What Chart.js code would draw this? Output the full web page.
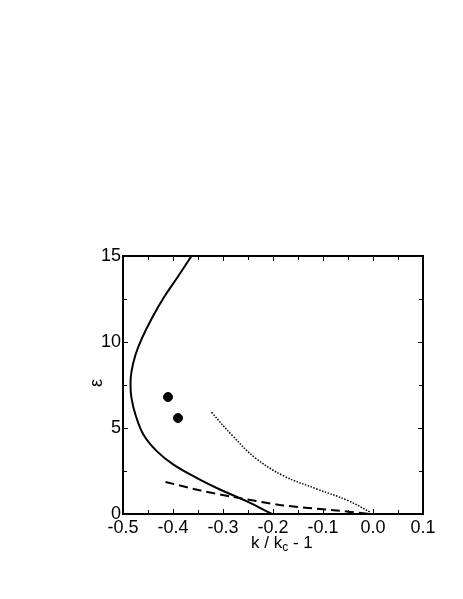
<!DOCTYPE html>
<html>
<head>
<meta charset="utf-8">
<script src="https://cdn.jsdelivr.net/npm/chart.js@4"></script>
<style>
  html, body { margin: 0; padding: 0; background: #fff; }
  #wrap { width: 463px; height: 599px; }
</style>
</head>
<body>
<div id="wrap"><canvas id="chart"></canvas></div>
<script>
// solid curve (k/kc - 1, epsilon)
const solidK   = [-0.363, -0.392, -0.419, -0.442, -0.462, -0.475, -0.483, -0.485, -0.483, -0.475, -0.459, -0.432, -0.399, -0.352, -0.305, -0.252, -0.202];
const solidEps = [15.0, 13.72, 12.56, 11.4, 10.23, 9.26, 8.29, 7.52, 6.74, 5.77, 4.61, 3.64, 2.87, 2.09, 1.41, 0.73, 0.0];

// dotted curve
const dotK   = [-0.323, -0.281, -0.235, -0.179, -0.112, -0.05, -0.004];
const dotEps = [5.91, 4.55, 3.25, 2.22, 1.45, 0.78, 0.08];

// dashed curve
const dashK   = [-0.415, -0.345, -0.279, -0.179, -0.079, -0.01];
const dashEps = [1.86, 1.37, 0.99, 0.5, 0.22, 0.02];

// points
const dotsK   = [-0.41, -0.39];
const dotsEps = [6.8, 5.58];

// ticks
const xMajor = [-0.5, -0.4, -0.3, -0.2, -0.1, 0.0, 0.1];
const xMinor = [-0.45, -0.35, -0.25, -0.15, -0.05, 0.05];
const yMajor = [0, 5, 10, 15];
const yMinor = [2.5, 7.5, 12.5];

function toPoints(xs, ys) {
    return xs.map((x, i) => ({ x: x, y: ys[i] }));
}

const FONT = "'Liberation Sans', Arial, sans-serif";

// frame, inward ticks and axis titles
const framePlugin = {
    id: "frame",
    afterDraw(chart) {
        const ctx = chart.ctx;
        const a = chart.chartArea;
        const xs = chart.scales.x;
        const ys = chart.scales.y;
        ctx.save();
        ctx.strokeStyle = "#000";
        ctx.lineWidth = 2;
        ctx.strokeRect(a.left, a.top, a.right - a.left, a.bottom - a.top);

        ctx.lineWidth = 1;
        const tick = (len, vals, horiz) => {
            vals.forEach((v) => {
                if (horiz) {
                    const px = Math.round(xs.getPixelForValue(v)) + 0.5;
                    ctx.beginPath();
                    ctx.moveTo(px, a.bottom); ctx.lineTo(px, a.bottom - len);
                    ctx.moveTo(px, a.top); ctx.lineTo(px, a.top + len);
                    ctx.stroke();
                } else {
                    const py = Math.round(ys.getPixelForValue(v)) + 0.5;
                    ctx.beginPath();
                    ctx.moveTo(a.left, py); ctx.lineTo(a.left + len, py);
                    ctx.moveTo(a.right, py); ctx.lineTo(a.right - len, py);
                    ctx.stroke();
                }
            });
        };
        tick(5, xMajor, true);
        tick(4, xMinor, true);
        tick(5, yMajor, false);
        tick(4, yMinor, false);

        // x title with subscript
        ctx.fillStyle = "#000";
        ctx.textBaseline = "alphabetic";
        ctx.textAlign = "left";
        const base = 548;
        const p1 = "k / k";
        const p3 = " - 1";
        ctx.font = "17px " + FONT;
        const w1 = ctx.measureText(p1).width;
        ctx.font = "12px " + FONT;
        const w2 = ctx.measureText("c").width;
        const x0 = 251;
        ctx.font = "17px " + FONT;
        ctx.fillText(p1, x0, base);
        ctx.font = "12px " + FONT;
        ctx.fillText("c", x0 + w1, base + 3);
        ctx.font = "17px " + FONT;
        ctx.fillText(p3, x0 + w1 + w2, base);

        // y title
        ctx.save();
        ctx.translate(97, (a.top + a.bottom) / 2 - 2);
        ctx.rotate(-Math.PI / 2);
        ctx.textAlign = "center";
        ctx.textBaseline = "middle";
        ctx.font = "18px " + FONT;
        ctx.fillText("\u03b5", 0, 0);
        ctx.restore();

        ctx.restore();
    }
};

new Chart(document.getElementById("chart"), {
    type: "scatter",
    data: {
        datasets: [
            {
                data: toPoints(solidK, solidEps),
                showLine: true,
                borderColor: "#000",
                borderWidth: 2,
                pointRadius: 0,
                tension: 0.4
            },
            {
                data: toPoints(dotK, dotEps),
                showLine: true,
                borderColor: "#000",
                borderWidth: 1.5,
                borderDash: [1.5, 1.5],
                pointRadius: 0,
                tension: 0.4
            },
            {
                data: toPoints(dashK, dashEps),
                showLine: true,
                borderColor: "#000",
                borderWidth: 2,
                borderDash: [9, 5],
                pointRadius: 0,
                tension: 0.3
            },
            {
                data: toPoints(dotsK, dotsEps),
                showLine: false,
                backgroundColor: "#000",
                borderColor: "#000",
                pointRadius: 4.5
            }
        ]
    },
    options: {
        responsive: true,
        maintainAspectRatio: false,
        animation: false,
        layout: { padding: { left: 0, top: 256, right: 40, bottom: 0 } },
        plugins: {
            legend: { display: false },
            tooltip: { enabled: false }
        },
        scales: {
            x: {
                type: "linear",
                min: -0.5,
                max: 0.1,
                grid: { display: false, drawTicks: false },
                border: { display: false },
                afterFit: (s) => { s.height = 85; },
                ticks: {
                    stepSize: 0.1,
                    padding: 3,
                    color: "#000",
                    font: { family: FONT, size: 18 },
                    callback: (v) => (Math.abs(v) < 1e-9 ? 0 : v).toFixed(1)
                }
            },
            y: {
                type: "linear",
                min: 0,
                max: 15,
                grid: { display: false, drawTicks: false },
                border: { display: false },
                afterFit: (s) => { s.width = 123; },
                ticks: {
                    stepSize: 5,
                    padding: 2,
                    color: "#000",
                    font: { family: FONT, size: 18 }
                }
            }
        }
    },
    plugins: [framePlugin]
});
</script>
</body>
</html>
